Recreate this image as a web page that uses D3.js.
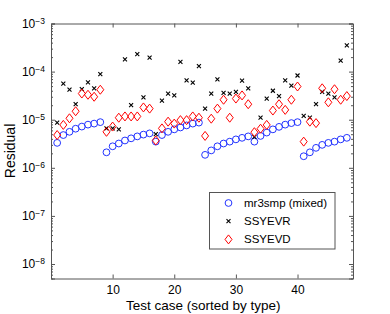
<!DOCTYPE html>
<html>
<head>
<meta charset="utf-8">
<script src="https://cdn.jsdelivr.net/npm/d3@7"></script>
<style>
  body { margin: 0; background: #fff; }
  svg { font-family: "Liberation Sans", Arial, sans-serif; }
</style>
</head>
<body>
<svg id="chart" width="390" height="314"></svg>
<script>
// residuals per test case
const cases = d3.range(1, 49);
const mr3smp = [3.3e-6, 4.8e-6, 5.6e-6, 6.5e-6, 7.2e-6, 7.9e-6, 8.3e-6, 8.9e-6,
  2.1e-6, 2.8e-6, 3.2e-6, 3.7e-6, 4.1e-6, 4.5e-6, 4.9e-6, 5.2e-6,
  3.5e-6, 4.8e-6, 5.6e-6, 6.3e-6, 6.9e-6, 7.6e-6, 8.3e-6, 8.7e-6,
  1.86e-6, 2.3e-6, 2.8e-6, 3.2e-6, 3.5e-6, 3.9e-6, 4.2e-6, 4.5e-6,
  3.5e-6, 4.6e-6, 5.4e-6, 6.3e-6, 7.1e-6, 7.9e-6, 8.5e-6, 8.9e-6,
  1.74e-6, 2.1e-6, 2.6e-6, 3.0e-6, 3.3e-6, 3.5e-6, 3.9e-6, 4.2e-6];
const ssyevr = [8.7e-6, 5.6e-5, 4.2e-5, 2.1e-5, 4.3e-5, 6.0e-5, 4.5e-5, 8.9e-5,
  6.6e-6, 6.6e-6, 6.3e-6, 1.8e-4, 2.0e-5, 2.3e-4, 2.9e-5, 1.95e-4,
  5.0e-6, 2.5e-5, 3.5e-5, 3.2e-5, 1.6e-4, 6.6e-5, 5.9e-5, 1.3e-4,
  1.7e-5, 3.5e-5, 6.9e-5, 3.6e-5, 3.5e-5, 3.8e-5, 6.5e-5, 4.5e-5,
  4.4e-6, 1.1e-5, 2.75e-5, 4.0e-5, 3.1e-5, 6.6e-5, 5.1e-5, 8.3e-5,
  1.2e-5, 1.1e-5, 2.1e-5, 3.8e-5, 3.5e-5, 2.9e-5, 1.7e-4, 3.5e-4];
const ssyevd = [4.8e-6, 7.8e-6, 1.07e-5, 1.5e-5, 3.5e-5, 3.3e-5, 3.0e-5, 4.2e-5,
  5.6e-6, 7.2e-6, 1.1e-5, 1.17e-5, 1.17e-5, 1.17e-5, 1.8e-5, 1.7e-5,
  3.7e-6, 6.6e-6, 9.1e-6, 8.3e-6, 9.8e-6, 9.8e-6, 1.17e-5, 1.1e-5,
  4.6e-6, 1.05e-5, 1.7e-5, 2.6e-5, 1.1e-5, 2.75e-5, 3.2e-5, 2.1e-5,
  5.5e-6, 6.5e-6, 7.8e-6, 1.55e-5, 2.1e-5, 1.6e-5, 2.6e-5, 4.9e-5,
  3.5e-6, 9.1e-6, 8.5e-6, 4.5e-5, 2.3e-5, 4.3e-5, 2.6e-5, 3.1e-5];
const seriesNames = ["mr3smp (mixed)", "SSYEVR", "SSYEVD"];
const xTicks = [10, 20, 30, 40];
const yExponents = [-3, -4, -5, -6, -7, -8];

const margin = { top: 23.5, right: 37, bottom: 35.5, left: 51 };
const width = 390 - margin.left - margin.right;
const height = 314 - margin.top - margin.bottom;
const axisColor = "#555";

const svg = d3.select("#chart");
const g = svg.append("g")
  .attr("transform", `translate(${margin.left},${margin.top})`);

const x = d3.scaleLinear().domain([0, 49]).range([0, width]);
const y = d3.scaleLog().domain([5e-9, 1e-3]).range([height, 0]);

const majorY = yExponents.map(e => Math.pow(10, e));
const minorY = [];
for (let e = -9; e < -3; e++) {
  for (let k = 2; k <= 9; k++) {
    const v = k * Math.pow(10, e);
    if (v >= 5e-9 && v <= 1e-3) minorY.push(v);
  }
}

// minor log ticks, left and right
g.append("g").call(d3.axisLeft(y).tickValues(minorY).tickSize(-2).tickFormat(""))
  .call(a => a.select(".domain").remove());
g.append("g").attr("transform", `translate(${width},0)`)
  .call(d3.axisRight(y).tickValues(minorY).tickSize(-2).tickFormat(""))
  .call(a => a.select(".domain").remove());

// major y ticks with 10^n labels
const yAxisG = g.append("g")
  .call(d3.axisLeft(y).tickValues(majorY).tickSize(-4).tickPadding(6));
yAxisG.selectAll(".tick text")
  .attr("font-size", 12)
  .attr("font-family", "Liberation Sans, Arial, sans-serif")
  .attr("fill", "#000")
  .text(null)
  .each(function(d) {
    const t = d3.select(this);
    t.append("tspan").text("10");
    t.append("tspan").attr("dy", "-0.5em").attr("font-size", 8.5)
      .text(String(Math.round(Math.log10(d))).replace("-", "\u2212"));
  });
g.append("g").attr("transform", `translate(${width},0)`)
  .call(d3.axisRight(y).tickValues(majorY).tickSize(-4).tickFormat(""));

// x axes, bottom and top
g.append("g").attr("transform", `translate(0,${height})`)
  .call(d3.axisBottom(x).tickValues(xTicks).tickSize(-4).tickPadding(7))
  .selectAll(".tick text")
  .attr("font-size", 12)
  .attr("font-family", "Liberation Sans, Arial, sans-serif")
  .attr("fill", "#000");
g.append("g")
  .call(d3.axisTop(x).tickValues(xTicks).tickSize(-4).tickFormat(""));

g.selectAll(".domain, .tick line").attr("stroke", axisColor);

// markers
const circles = g.append("g");
circles.selectAll("circle")
  .data(cases)
  .join("circle")
  .attr("cx", (d) => x(d))
  .attr("cy", (d, i) => y(mr3smp[i]))
  .attr("r", 3.4)
  .attr("fill", "none")
  .attr("stroke", "#2233ff")
  .attr("stroke-width", 1);

const crossPath = "M-2,-2L2,2M-2,2L2,-2";
g.append("g").selectAll("path")
  .data(cases)
  .join("path")
  .attr("transform", (d, i) => `translate(${x(d)},${y(ssyevr[i])})`)
  .attr("d", crossPath)
  .attr("stroke", "#000")
  .attr("stroke-width", 1.1)
  .attr("fill", "none");

const diamondPath = "M0,-4.5L3.5,0L0,4.5L-3.5,0Z";
g.append("g").selectAll("path")
  .data(cases)
  .join("path")
  .attr("transform", (d, i) => `translate(${x(d)},${y(ssyevd[i])})`)
  .attr("d", diamondPath)
  .attr("stroke", "#ff0000")
  .attr("stroke-width", 1)
  .attr("fill", "none");

// axis titles
svg.append("text")
  .attr("x", margin.left + x(24.7))
  .attr("y", 309.5)
  .attr("text-anchor", "middle")
  .attr("font-size", 13.5)
  .text("Test case (sorted by type)");

svg.append("text")
  .attr("transform", `translate(15,${margin.top + height / 2}) rotate(-90)`)
  .attr("text-anchor", "middle")
  .attr("font-size", 14)
  .text("Residual");

// legend
const legend = svg.append("g").attr("transform", "translate(209.5,192.5)");
legend.append("rect")
  .attr("width", 125.5)
  .attr("height", 56.5)
  .attr("fill", "#fff")
  .attr("stroke", axisColor)
  .attr("stroke-width", 1);
const rows = legend.selectAll("g.row")
  .data(seriesNames)
  .join("g")
  .attr("class", "row")
  .attr("transform", (d, i) => `translate(19,${10.5 + i * 18.2})`);
rows.append("path")
  .attr("d", (d, i) => i === 0 ? d3.symbol(d3.symbolCircle, 36)() : i === 1 ? crossPath : diamondPath)
  .attr("fill", "none")
  .attr("stroke", (d, i) => ["#2233ff", "#000", "#ff0000"][i])
  .attr("stroke-width", (d, i) => i === 1 ? 1.1 : 1);
rows.append("text")
  .attr("x", 15.5)
  .attr("dy", "0.35em")
  .attr("font-size", 11.5)
  .text(d => d);
</script>
</body>
</html>
